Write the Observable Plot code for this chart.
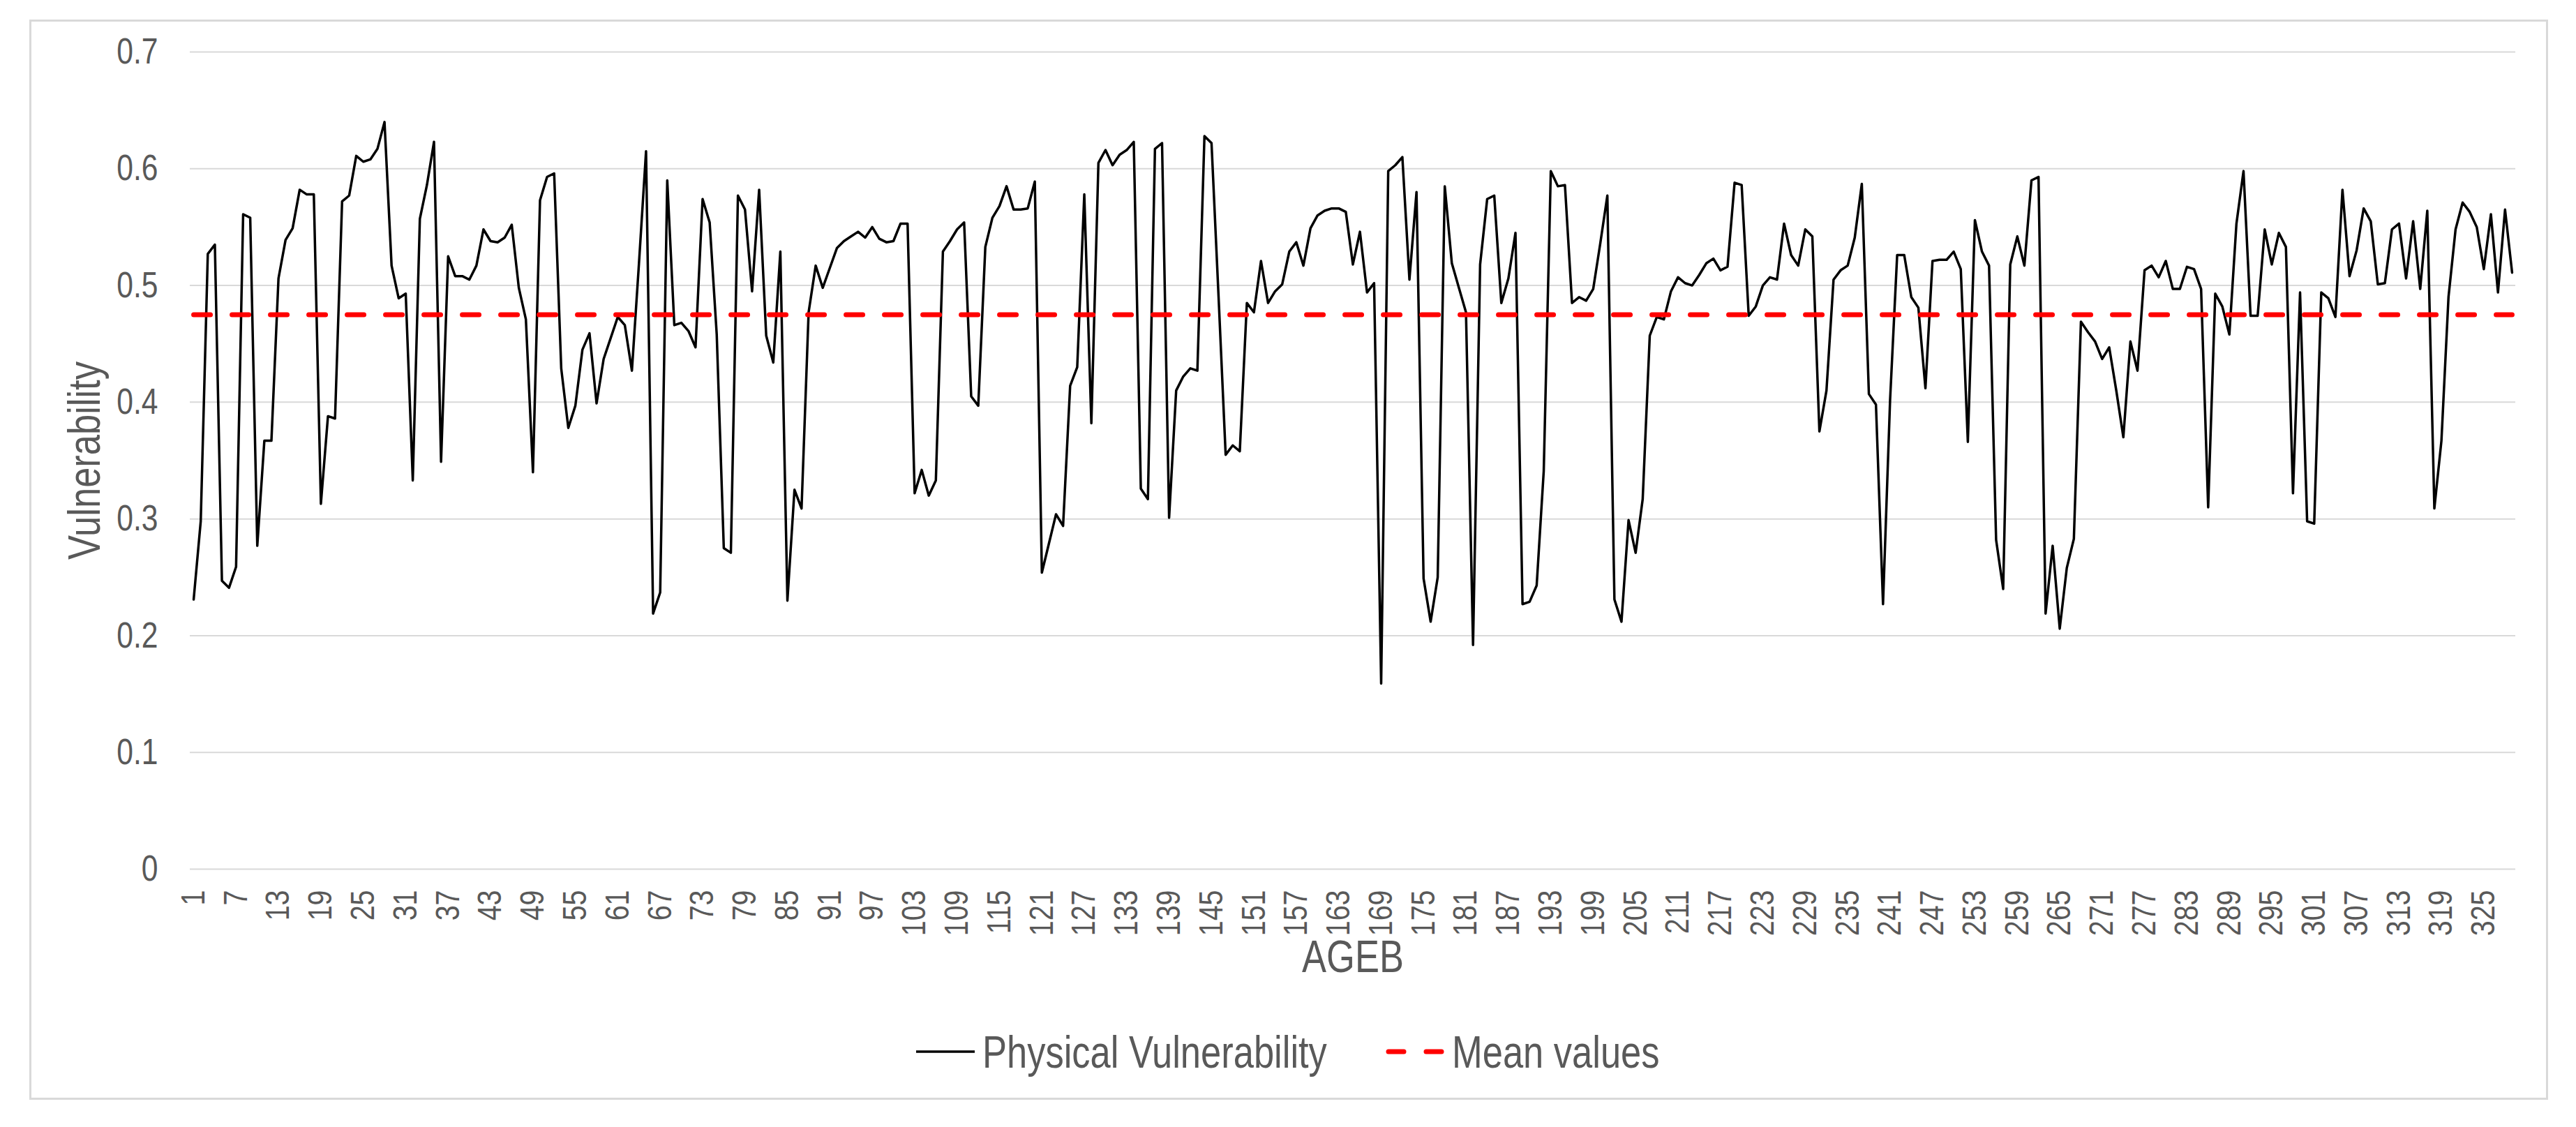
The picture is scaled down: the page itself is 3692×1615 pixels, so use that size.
<!DOCTYPE html>
<html>
<head>
<meta charset="utf-8">
<script src="https://cdn.jsdelivr.net/npm/d3@7"></script>
<script src="https://cdn.jsdelivr.net/npm/@observablehq/plot@0.6"></script>
<style>
  html, body { margin: 0; padding: 0; background: #ffffff; }
  body { width: 3692px; height: 1615px; position: relative; overflow: hidden;
         font-family: "Liberation Sans", Arial, sans-serif; }
  #frame { position: absolute; left: 42px; top: 28px; width: 3610px; height: 1548px;
           box-sizing: border-box; border: 3px solid #d9d9d9; }
  #chart { position: absolute; left: 0; top: 0; }
  #legend { position: absolute; left: 0; top: 1440px; }
</style>
</head>
<body>
<div id="frame"></div>
<div id="chart"></div>
<div id="legend"></div>
<script>
// ---- data ----
const seriesName = "Physical Vulnerability";
const meanName = "Mean values";
const vulnerability = [
  0.231, 0.298, 0.527, 0.535, 0.247, 0.241, 0.259, 0.561, 0.558, 0.277,
  0.367, 0.367, 0.506, 0.539, 0.549, 0.582, 0.578, 0.578, 0.313, 0.388,
  0.386, 0.572, 0.577, 0.611, 0.606, 0.608, 0.617, 0.640, 0.517, 0.489,
  0.493, 0.333, 0.557, 0.586, 0.623, 0.349, 0.525, 0.508, 0.508, 0.505,
  0.517, 0.548, 0.538, 0.537, 0.541, 0.552, 0.498, 0.471, 0.340, 0.573,
  0.593, 0.596, 0.429, 0.378, 0.397, 0.445, 0.459, 0.399, 0.437, 0.455,
  0.473, 0.466, 0.427, 0.519, 0.615, 0.219, 0.237, 0.590, 0.466, 0.468,
  0.461, 0.447, 0.574, 0.554, 0.458, 0.275, 0.271, 0.577, 0.565, 0.495,
  0.582, 0.457, 0.434, 0.529, 0.230, 0.325, 0.309, 0.477, 0.517, 0.498,
  0.515, 0.532, 0.538, 0.542, 0.546, 0.541, 0.550, 0.540, 0.537, 0.538,
  0.553, 0.553, 0.322, 0.342, 0.320, 0.333, 0.529, 0.538, 0.548, 0.554,
  0.405, 0.397, 0.533, 0.558, 0.568, 0.585, 0.565, 0.565, 0.566, 0.589,
  0.254, 0.279, 0.304, 0.294, 0.414, 0.430, 0.578, 0.382, 0.605, 0.616,
  0.603, 0.612, 0.616, 0.623, 0.326, 0.317, 0.617, 0.622, 0.301, 0.410,
  0.422, 0.429, 0.427, 0.628, 0.622, 0.490, 0.355, 0.363, 0.358, 0.485,
  0.477, 0.521, 0.485, 0.495, 0.501, 0.529, 0.537, 0.517, 0.549, 0.560,
  0.564, 0.566, 0.566, 0.563, 0.518, 0.546, 0.494, 0.502, 0.159, 0.598,
  0.603, 0.610, 0.505, 0.580, 0.249, 0.212, 0.250, 0.585, 0.519, 0.498,
  0.477, 0.192, 0.518, 0.574, 0.577, 0.485, 0.506, 0.545, 0.227, 0.229,
  0.243, 0.341, 0.598, 0.585, 0.586, 0.485, 0.490, 0.487, 0.497, 0.536,
  0.577, 0.231, 0.212, 0.299, 0.271, 0.317, 0.457, 0.473, 0.471, 0.495,
  0.507, 0.502, 0.500, 0.509, 0.519, 0.523, 0.513, 0.516, 0.588, 0.586,
  0.474, 0.482, 0.500, 0.507, 0.505, 0.553, 0.526, 0.517, 0.548, 0.542,
  0.375, 0.410, 0.505, 0.513, 0.517, 0.541, 0.587, 0.407, 0.398, 0.227,
  0.402, 0.526, 0.526, 0.490, 0.481, 0.412, 0.521, 0.522, 0.522, 0.529,
  0.514, 0.366, 0.556, 0.529, 0.517, 0.282, 0.240, 0.518, 0.542, 0.517,
  0.590, 0.593, 0.219, 0.277, 0.206, 0.258, 0.283, 0.469, 0.460, 0.452,
  0.437, 0.447, 0.410, 0.370, 0.452, 0.427, 0.513, 0.517, 0.507, 0.521,
  0.497, 0.497, 0.516, 0.514, 0.497, 0.310, 0.493, 0.482, 0.458, 0.553,
  0.598, 0.474, 0.474, 0.548, 0.518, 0.545, 0.533, 0.322, 0.494, 0.298,
  0.296, 0.494, 0.489, 0.473, 0.582, 0.508, 0.530, 0.566, 0.555, 0.501,
  0.502, 0.548, 0.553, 0.506, 0.555, 0.497, 0.564, 0.309, 0.367, 0.490,
  0.548, 0.571, 0.563, 0.550, 0.514, 0.561, 0.494, 0.565, 0.511
];
const ageb = vulnerability.map((_, i) => i + 1);       // AGEB category numbers 1..329
const meanValue = 0.475;
const yTicks = [0, 0.1, 0.2, 0.3, 0.4, 0.5, 0.6, 0.7];
const xTicks = d3.range(1, ageb.length + 1, 6);         // 1, 7, 13, ... 325

const rows = ageb.map((a, i) => ({ageb: a, v: vulnerability[i]}));
const meanRows = [{ageb: ageb[0], v: meanValue}, {ageb: ageb[ageb.length - 1], v: meanValue}];

const NARROW = 0.82;   // emulate a narrow sans face
function narrowText(el, k) {
  const t = el.getAttribute("transform") || "";
  const xs = el.getAttribute("x");
  if (xs != null && xs !== "" && !isNaN(+xs)) el.setAttribute("x", +xs / k);
  el.setAttribute("transform", `${t} scale(${k},1)`.trim());
}

const W = 3692, H = 1440;
const chart = Plot.plot({
  width: W,
  height: H,
  marginTop: 74,
  marginBottom: H - 1245,
  marginLeft: 272,
  marginRight: W - 3605,
  style: {background: "transparent", color: "#595959", fontFamily: "'Liberation Sans', Arial, sans-serif", overflow: "visible"},
  x: {type: "linear", domain: [0.5, ageb.length + 0.5]},
  y: {domain: [0, 0.7]},
  marks: [
    Plot.gridY(yTicks, {stroke: "#d9d9d9", strokeOpacity: 1, strokeWidth: 2}),
    Plot.axisY(yTicks, {tickSize: 0, tickPadding: 46, fontSize: 52, label: null,
      tickFormat: d => d === 0 ? "0" : d3.format(".1f")(d)}),
    Plot.axisX(xTicks, {tickSize: 0, tickRotate: -90, tickPadding: 30, fontSize: 48, label: null,
      tickFormat: d => String(d)}),
    Plot.lineY(rows, {x: "ageb", y: "v", stroke: "#000000", strokeWidth: 3.5, strokeLinejoin: "round"}),
    Plot.lineY(meanRows, {x: "ageb", y: "v", stroke: "#ff0000", strokeWidth: 7,
      strokeDasharray: "24,31", strokeLinecap: "round"}),
    Plot.text(["Vulnerability"], {frameAnchor: "left", dx: -150, rotate: -90, textAnchor: "middle",
      fontSize: 64, fill: "#595959", text: d => d}),
    Plot.text(["AGEB"], {frameAnchor: "bottom", dx: 0, dy: 147, textAnchor: "middle",
      fontSize: 64, fill: "#595959", text: d => d})
  ]
});
chart.querySelectorAll("text").forEach(el => narrowText(el, NARROW));
document.getElementById("chart").appendChild(chart);

// ---- legend ----
const lg = d3.select("#legend").append("svg")
  .attr("width", W).attr("height", 140)
  .style("font-family", "'Liberation Sans', Arial, sans-serif");
const cy = 1507 - 1440;
const items = [
  {name: seriesName, x: 1313, stroke: "#000000", width: 3.5, dash: null, cap: "butt"},
  {name: meanName, x: 1986, stroke: "#ff0000", width: 7, dash: "22,32", cap: "round"}
];
items.forEach(d => {
  lg.append("line")
    .attr("x1", d.dash ? d.x + 4 : d.x).attr("x2", d.dash ? d.x + 80 : d.x + 84)
    .attr("y1", cy).attr("y2", cy)
    .attr("stroke", d.stroke).attr("stroke-width", d.width)
    .attr("stroke-linecap", d.cap).attr("stroke-dasharray", d.dash);
  lg.append("text")
    .attr("transform", `translate(${d.x + 95},${cy}) scale(${NARROW},1)`)
    .attr("dy", "0.36em")
    .attr("font-size", 64).attr("fill", "#595959")
    .text(d.name);
});
</script>
</body>
</html>
